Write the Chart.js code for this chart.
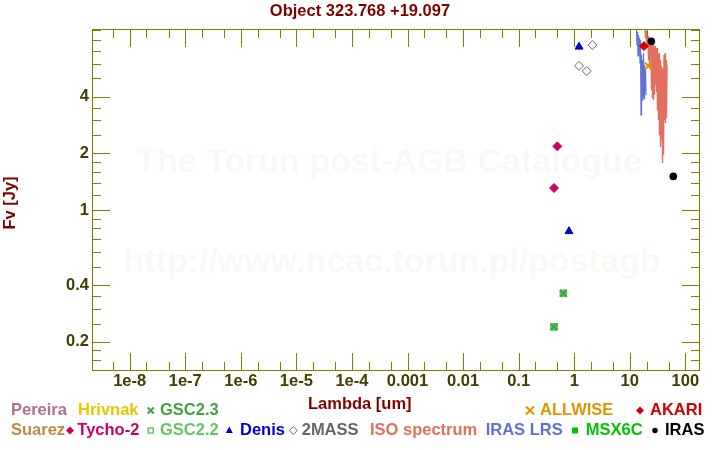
<!DOCTYPE html>
<html>
<head>
<meta charset="utf-8">
<title>Object 323.768 +19.097</title>
<script src="https://cdn.jsdelivr.net/npm/chart.js@4/dist/chart.umd.min.js"></script>
<style>
  html, body { margin: 0; padding: 0; background: #fff; }
</style>
</head>
<body>
<canvas id="sed" width="720" height="450"></canvas>
<script>
// photometry, wavelength in um, flux in Jy
const tychoWave = [0.433, 0.497];
const tychoFlux = [1.31, 2.18];
const gscWave = [0.433, 0.637];
const gscFlux = [0.240, 0.362];
const denisWave = [0.806, 1.22];
const denisFlux = [0.772, 7.36];
const twoMassWave = [1.22, 1.68, 2.12];
const twoMassFlux = [5.83, 5.47, 7.52];
const allwiseWave = [21.6];
const allwiseFlux = [5.82];
const akariWave = [18.0];
const akariFlux = [7.43];
const irasWave = [24.4, 60.7];
const irasFlux = [7.87, 1.51];
const msxWave = [];
const msxFlux = [];

// spectra (only the part that dips into the plot)
const isoWave = [17.5, 18.80, 19.19, 19.60, 20.01, 20.42, 20.85, 21.29, 21.74, 22.18, 22.65,
  23.12, 23.61, 24.10, 24.60, 25.12, 25.64, 26.18, 26.73, 27.29, 27.86, 28.44, 29.04, 29.65,
  30.27, 30.90, 31.55, 32.21, 32.89, 33.57, 34.28, 34.99, 35.73, 36.48, 37.24, 38.02, 38.82,
  39.63, 40.46, 41.30, 42.17, 43.05, 43.95, 44.87, 45.81, 46.77];
const isoFlux = [11.0, 9.15, 8.19, 8.93, 7.80, 8.60, 7.25, 8.40, 6.26, 8.00, 5.75,
  8.19, 6.66, 7.80, 4.34, 7.52, 3.94, 7.61, 3.84, 7.25, 4.08, 7.43, 4.61, 7.07,
  4.24, 7.25, 3.40, 6.66, 3.01, 6.81, 2.50, 6.26, 2.16, 5.82, 2.36, 5.54, 1.78,
  5.68, 1.96, 6.66, 3.01, 6.81, 2.90, 6.26, 3.08, 5.89];
const lrsWave = [12.5, 13.22, 13.49, 13.78, 14.07, 14.36, 14.66, 14.97, 15.28, 15.60, 15.93,
  16.26, 16.60, 16.95, 17.30, 17.67, 18.04, 18.41, 18.80, 19.19, 19.60];
const lrsFlux = [11.0, 9.15, 7.52, 8.82, 6.58, 8.50, 7.07, 8.19, 6.04, 8.00, 3.20,
  6.66, 3.84, 6.26, 4.03, 6.81, 3.89, 5.89, 4.34, 5.54, 4.08];

const xTickValues = [1e-8, 1e-7, 1e-6, 1e-5, 1e-4, 0.001, 0.01, 0.1, 1, 10, 100];
const xTickLabels = ['1e-8', '1e-7', '1e-6', '1e-5', '1e-4', '0.001', '0.01', '0.1', '1', '10', '100'];
const yTickValues = [0.2, 0.4, 1, 2, 4];
const yTickLabels = ['0.2', '0.4', '1', '2', '4'];
const yMinorTicks = [0.14, 0.16, 0.18, 0.25, 0.3, 0.35, 0.5, 0.6, 0.7, 0.8, 0.9,
  1.2, 1.4, 1.6, 1.8, 2.5, 3, 3.5, 5, 6, 7, 8, 9];
const xMinorTicks = [];
for (let e = -9; e <= 2; e++) {
  [2, 5].forEach(m => xMinorTicks.push(m * Math.pow(10, e)));
}

const AXIS = '#808000';
const FONT = '"Liberation Sans", Arial, sans-serif';
const TEXT_SIZE = 16.5;

const pts = (w, f) => w.map((v, i) => ({ x: v, y: f[i] }));

function legendMark(ctx, kind, x, y, color) {
  ctx.fillStyle = color;
  ctx.strokeStyle = color;
  ctx.lineWidth = 1.5;
  ctx.beginPath();
  if (kind === 'diamond' || kind === 'odiamond') {
    ctx.moveTo(x, y - 4); ctx.lineTo(x + 4, y); ctx.lineTo(x, y + 4); ctx.lineTo(x - 4, y);
    ctx.closePath();
    if (kind === 'diamond') ctx.fill(); else { ctx.lineWidth = 1; ctx.stroke(); }
  } else if (kind === 'x' || kind === 'bigx') {
    const r = kind === 'x' ? 3 : 4;
    ctx.moveTo(x - r, y - r); ctx.lineTo(x + r, y + r);
    ctx.moveTo(x + r, y - r); ctx.lineTo(x - r, y + r);
    ctx.lineWidth = 2;
    ctx.stroke();
  } else if (kind === 'square') {
    ctx.lineWidth = 1.5;
    ctx.strokeRect(x - 2.5, y - 2.5, 5, 5);
  } else if (kind === 'fsquare') {
    ctx.fillRect(x - 3, y - 3, 6, 6);
  } else if (kind === 'triangle') {
    ctx.moveTo(x, y - 4); ctx.lineTo(x + 3.5, y + 2.5); ctx.lineTo(x - 3.5, y + 2.5);
    ctx.closePath();
    ctx.fill();
  } else if (kind === 'circle') {
    ctx.arc(x, y, 2.7, 0, Math.PI * 2);
    ctx.fill();
  }
}

// text, colour, marker, marker x, text x, y
const legendItems = [
  ['Pereira', '#b07088', null, 0, 11, 410.5],
  ['Hrivnak', '#e6c800', null, 0, 78, 410.5],
  ['GSC2.3', '#44a044', 'x', 150.7, 160, 410.5],
  ['ALLWISE', '#e09400', 'bigx', 530, 540, 410.5],
  ['AKARI', '#d40000', 'diamond', 640, 650, 410.5],
  ['Suarez', '#c08840', null, 0, 11, 430.5],
  ['Tycho-2', '#cc0066', 'diamond', 70, 77.3, 430.5],
  ['GSC2.2', '#66c466', 'square', 150.7, 160, 430.5],
  ['Denis', '#0000cc', 'triangle', 229.3, 240, 430.5],
  ['2MASS', '#666666', 'odiamond', 293.3, 301.7, 430.5],
  ['ISO spectrum', '#e27060', null, 0, 370, 430.5],
  ['IRAS LRS', '#6070d8', null, 0, 485.7, 430.5],
  ['MSX6C', '#00c400', 'fsquare', 575, 585.7, 430.5],
  ['IRAS', '#000000', 'circle', 655, 665, 430.5]
];

const sedDecor = {
  id: 'sedDecor',
  beforeDatasetsDraw(chart) {
    const ctx = chart.ctx;
    ctx.save();
    ctx.fillStyle = '#faf8f5';
    ctx.font = 'bold 34px ' + FONT;
    ctx.textAlign = 'center';
    ctx.textBaseline = 'middle';
    ctx.fillText('The Torun post-AGB Catalogue', 389, 163);
    ctx.fillText('http://www.ncac.torun.pl/postagb', 392, 263);
    ctx.restore();
  },
  afterDatasetsDraw(chart) {
    const { ctx, chartArea: a, scales: { x, y } } = chart;
    ctx.save();
    ctx.strokeStyle = AXIS;
    ctx.lineWidth = 1;
    ctx.strokeRect(a.left + 0.5, a.top + 0.5, a.right - a.left, a.bottom - a.top - 1);

    const xTick = (v, len) => {
      const p = Math.round(x.getPixelForValue(v)) + 0.5;
      if (p < a.left + 1 || p > a.right) return;
      ctx.moveTo(p, a.top); ctx.lineTo(p, a.top + len);
      ctx.moveTo(p, a.bottom); ctx.lineTo(p, a.bottom - len);
    };
    const yTick = (v, len) => {
      const p = Math.round(y.getPixelForValue(v)) + 0.5;
      if (p < a.top || p > a.bottom) return;
      ctx.moveTo(a.left, p); ctx.lineTo(a.left + len, p);
      ctx.moveTo(a.right + 1, p); ctx.lineTo(a.right + 1 - len, p);
    };
    ctx.beginPath();
    xTickValues.forEach(v => xTick(v, 18));
    xMinorTicks.forEach(v => xTick(v, 9));
    yTickValues.forEach(v => yTick(v, 18));
    yMinorTicks.forEach(v => yTick(v, 9));
    ctx.stroke();
    ctx.restore();
  },
  afterDraw(chart) {
    const ctx = chart.ctx;
    ctx.save();
    ctx.font = 'bold ' + TEXT_SIZE + 'px ' + FONT;
    ctx.textBaseline = 'middle';
    ctx.fillStyle = '#800000';
    ctx.textAlign = 'center';
    ctx.fillText('Object 323.768 +19.097', 360, 11.5);
    ctx.textAlign = 'left';
    ctx.fillText('Lambda [um]', 308, 404);
    ctx.save();
    ctx.translate(10.5, 203);
    ctx.rotate(-Math.PI / 2);
    ctx.textAlign = 'center';
    ctx.fillText('Fv [Jy]', 0, 0);
    ctx.restore();

    legendItems.forEach(([text, color, mark, mx, tx, ty]) => {
      if (mark) legendMark(ctx, mark, mx, ty, color);
      ctx.fillStyle = color;
      ctx.fillText(text, tx, ty);
    });
    ctx.restore();
  }
};

new Chart(document.getElementById('sed'), {
  type: 'scatter',
  data: {
    datasets: [
      { label: 'IRAS', data: pts(irasWave, irasFlux), pointStyle: 'circle', pointRadius: 3.8,
        backgroundColor: '#000000', borderColor: '#000000', borderWidth: 0 },
      { label: 'AKARI', data: pts(akariWave, akariFlux), pointStyle: 'rectRot', pointRadius: 4.5,
        backgroundColor: '#d40000', borderColor: '#d40000', borderWidth: 1 },
      { label: 'ALLWISE', data: pts(allwiseWave, allwiseFlux), pointStyle: 'crossRot', pointRadius: 5,
        backgroundColor: '#e09400', borderColor: '#e09400', borderWidth: 2 },
      { label: 'MSX6C', data: pts(msxWave, msxFlux), pointStyle: 'rect', pointRadius: 4.5,
        backgroundColor: '#00c400', borderColor: '#00c400' },
      { label: 'Tycho-2', data: pts(tychoWave, tychoFlux), pointStyle: 'rectRot', pointRadius: 4.5,
        backgroundColor: '#cc0066', borderColor: '#cc0066', borderWidth: 1 },
      { label: 'GSC2.3', data: pts(gscWave, gscFlux), pointStyle: 'crossRot', pointRadius: 4.8,
        backgroundColor: '#3f9f3f', borderColor: '#3f9f3f', borderWidth: 1.5 },
      { label: 'GSC2.2', data: pts(gscWave, gscFlux), pointStyle: 'rect', pointRadius: 4.7,
        backgroundColor: '#5cbf5c', borderColor: '#5cbf5c', borderWidth: 1 },
      { label: 'Denis', data: pts(denisWave, denisFlux), pointStyle: 'triangle', pointRadius: 4.6,
        backgroundColor: '#0000cc', borderColor: '#0000cc', borderWidth: 1 },
      { label: '2MASS', data: pts(twoMassWave, twoMassFlux), pointStyle: 'rectRot', pointRadius: 4.5,
        backgroundColor: 'rgba(255,255,255,0)', borderColor: '#666666', borderWidth: 1 },
      { label: 'ISO spectrum', data: pts(isoWave, isoFlux), showLine: true, pointRadius: 0,
        borderColor: '#e27060', backgroundColor: '#e27060', borderWidth: 1.4, tension: 0 },
      { label: 'IRAS LRS', data: pts(lrsWave, lrsFlux), showLine: true, pointRadius: 0,
        borderColor: '#6070d8', backgroundColor: '#6070d8', borderWidth: 1.2, tension: 0 }
    ]
  },
  options: {
    responsive: false,
    devicePixelRatio: 1,
    animation: false,
    events: [],
    layout: { padding: { top: 29, right: 21, bottom: 0, left: 0 } },
    plugins: {
      legend: { display: false },
      tooltip: { enabled: false },
      title: { display: false }
    },
    scales: {
      x: {
        type: 'logarithmic',
        min: 2.1e-9,
        max: 176,
        bounds: 'data',
        grid: { display: false, drawTicks: false },
        border: { display: false },
        afterBuildTicks: s => { s.ticks = xTickValues.map(v => ({ value: v })); },
        afterFit: s => { s.height = 79; s.paddingLeft = 0; s.paddingRight = 0; },
        ticks: {
          autoSkip: false,
          maxRotation: 0,
          padding: 1,
          color: '#3f3f00',
          font: { family: FONT, size: TEXT_SIZE, weight: 'bold' },
          callback: (v, i) => xTickLabels[i]
        }
      },
      y: {
        type: 'logarithmic',
        min: 0.14,
        max: 9.15,
        bounds: 'data',
        grid: { display: false, drawTicks: false },
        border: { display: false },
        afterBuildTicks: s => { s.ticks = yTickValues.map(v => ({ value: v })); },
        afterFit: s => { s.width = 92; s.paddingTop = 0; s.paddingBottom = 0; },
        ticks: {
          autoSkip: false,
          padding: 3,
          color: '#3f3f00',
          font: { family: FONT, size: TEXT_SIZE, weight: 'bold' },
          callback: (v, i) => yTickLabels[i]
        }
      }
    }
  },
  plugins: [sedDecor]
});
</script>
</body>
</html>
